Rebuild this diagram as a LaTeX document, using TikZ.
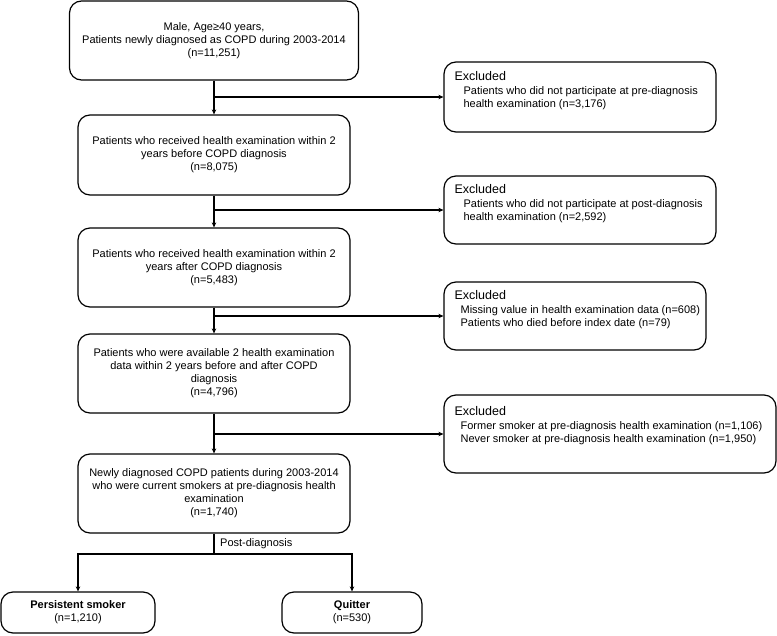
\documentclass[tikz,border=0pt]{standalone}
\usepackage{fontspec}
\setmainfont{Liberation Sans}
\usetikzlibrary{arrows.meta}

\tikzset{
  flowbox/.style={draw, line width=1.2pt, rounded corners=12pt, align=center,
    inner sep=2pt, font=\fontsize{11}{13}\selectfont},
  exclbox/.style={draw, line width=1.2pt, rounded corners=12pt, inner sep=0pt},
  excltext/.style={anchor=north west, align=left, inner sep=0pt,
    font=\fontsize{11}{13}\selectfont},
  flowarrow/.style={line width=1.2pt, -{Stealth[length=5pt,width=4.5pt]}},
  flowline/.style={line width=1.2pt}
}
\newcommand{\exhead}{{\fontsize{12.5}{14}\selectfont Excluded}}

\begin{document}
\begin{tikzpicture}[x=1pt,y=-1pt]

				\useasboundingbox (0,0) rectangle (777,635);

				\def\xm{214}
				\def\xe{580}

				%main column
				\node[flowbox, minimum width=289pt, minimum height=79pt] (cohort) at (\xm,40.5)
					{Male, Age≥40 years,\\ Patients newly diagnosed as COPD during 2003-2014\\(n=11,251)};
				\node[flowbox, minimum width=272pt, minimum height=80pt] (prehe) at (\xm,155)
					{Patients who received health examination within 2\\years before COPD diagnosis\\(n=8,075)};
				\node[flowbox, minimum width=272pt, minimum height=79pt] (posthe) at (\xm,267.5)
					{Patients who received health examination within 2\\years after COPD diagnosis\\(n=5,483)};
				\node[flowbox, minimum width=272pt, minimum height=79pt] (bothhe) at (\xm,373.5)
					{Patients who were available 2 health examination\\data within 2 years before and after COPD\\diagnosis\\(n=4,796)};
				\node[flowbox, minimum width=272pt, minimum height=79pt] (smokers) at (\xm,493.5)
					{Newly diagnosed COPD patients during 2003-2014\\who were current smokers at pre-diagnosis health\\examination\\(n=1,740)};

				%excluded column
				\node[exclbox, minimum width=272pt, minimum height=70pt] (exa) at (\xe,97) {};
				\node[exclbox, minimum width=272pt, minimum height=68pt] (exb) at (\xe,210) {};
				\node[exclbox, minimum width=262pt, minimum height=68pt] (exc) at (575,316) {};
				\node[exclbox, minimum width=332pt, minimum height=78pt] (exd) at (610,434) {};

				\node[excltext] (exat) at ([shift={(11,10)}]exa.north west)
					{\exhead\\[1pt]
					\hspace*{9pt}Patients who did not participate at pre-diagnosis\\
					\hspace*{9pt}health examination (n=3,176)};
				\node[excltext] (exbt) at ([shift={(11,9)}]exb.north west)
					{\exhead\\[1pt]
					\hspace*{9pt}Patients who did not participate at post-diagnosis\\
					\hspace*{9pt}health examination (n=2,592)};
				\node[excltext] (exct) at ([shift={(11,9)}]exc.north west)
					{\exhead\\[1pt]
					\hspace*{6pt}Missing value in health examination data (n=608)\\
					\hspace*{6pt}Patients who died before index date (n=79)};
				\node[excltext] (exdt) at ([shift={(11,12)}]exd.north west)
					{\exhead\\[1pt]
					\hspace*{6pt}Former smoker at pre-diagnosis health examination (n=1,106)\\
					\hspace*{6pt}Never smoker at pre-diagnosis health examination (n=1,950)};

				%groups
				\node[flowbox, minimum width=154pt, minimum height=41pt] (persist) at (78,612.5)
					{\textbf{Persistent smoker}\\(n=1,210)};
				\node[flowbox, minimum width=140pt, minimum height=41pt] (quit) at (352,612.5)
					{\textbf{Quitter}\\(n=530)};

				%arrows down
				\draw[flowarrow] (cohort) -- (prehe);
				\draw[flowarrow] (prehe) -- (posthe);
				\draw[flowarrow] (posthe) -- (bothhe);
				\draw[flowarrow] (bothhe) -- (smokers);

				%arrows to excluded
				\draw[flowarrow] (cohort.south |- exa.west) -- (exa.west);
				\draw[flowarrow] (prehe.south |- exb.west) -- (exb.west);
				\draw[flowarrow] (posthe.south |- exc.west) -- (exc.west);
				\draw[flowarrow] (bothhe.south |- exd.west) -- (exd.west);

				%split
				\coordinate (split) at (\xm,554);
				\node[anchor=west, inner sep=0pt, font=\fontsize{11}{13}\selectfont] (postdx) at (220,544) {Post-diagnosis};
				\draw[flowline] (smokers) -- (split);
				\draw[flowarrow] (split) -| (persist.north);
				\draw[flowarrow] (split) -| (quit.north);

\end{tikzpicture}
\end{document}
